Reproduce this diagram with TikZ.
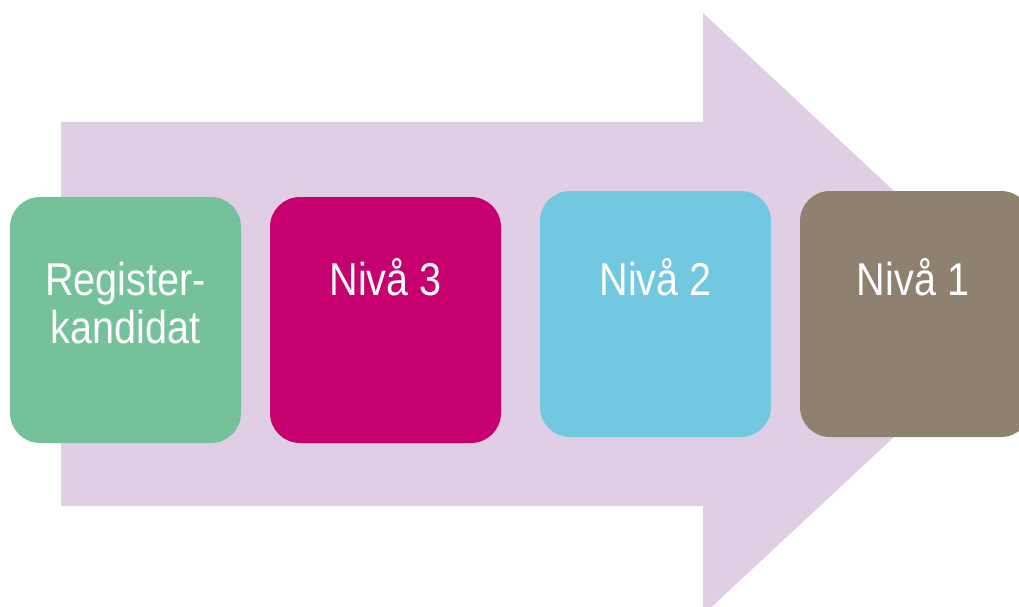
\documentclass[tikz,border=0pt]{standalone}
\usepackage{fontspec}
\setmainfont{Liberation Sans}[FakeStretch=0.86]
\definecolor{arrowlav}{HTML}{E0CFE4}
\definecolor{boxgreen}{HTML}{75C19A}
\definecolor{boxmag}{HTML}{C6006E}
\definecolor{boxblue}{HTML}{71C8E0}
\definecolor{boxbrown}{HTML}{8E8170}
\tikzset{
  stagebox/.style={draw=none, rounded corners=30pt, minimum width=231pt, minimum height=246pt, inner sep=0pt},
  stagetext/.style={text=white, font=\fontsize{46}{48}\selectfont, align=center, inner sep=0pt, anchor=base}
}
\begin{document}
\begin{tikzpicture}[x=1pt,y=-1pt]
\useasboundingbox (0,0) rectangle (1019,607);
\clip (0,0) rectangle (1019,607);
\fill[arrowlav] (61,122) -- (703,122) -- (703,13) -- (1026,314) -- (703,615) -- (703,506) -- (61,506) -- cycle;
\node[stagebox, fill=boxgreen] (g) at (125.5,320) {};
\node[stagebox, fill=boxmag] (m) at (385.5,320) {};
\node[stagebox, fill=boxblue] (b) at (655.5,314) {};
\node[stagebox, fill=boxbrown] (n) at (915.5,314) {};
\node[stagetext] (gt) at (125.5,343) {Register-\\kandidat};
\node[stagetext] (mt) at (385.5,295) {Nivå 3};
\node[stagetext] (bt) at (655.5,295) {Nivå 2};
\node[stagetext] (nt) at (913,295) {Nivå 1};
\end{tikzpicture}
\end{document}
